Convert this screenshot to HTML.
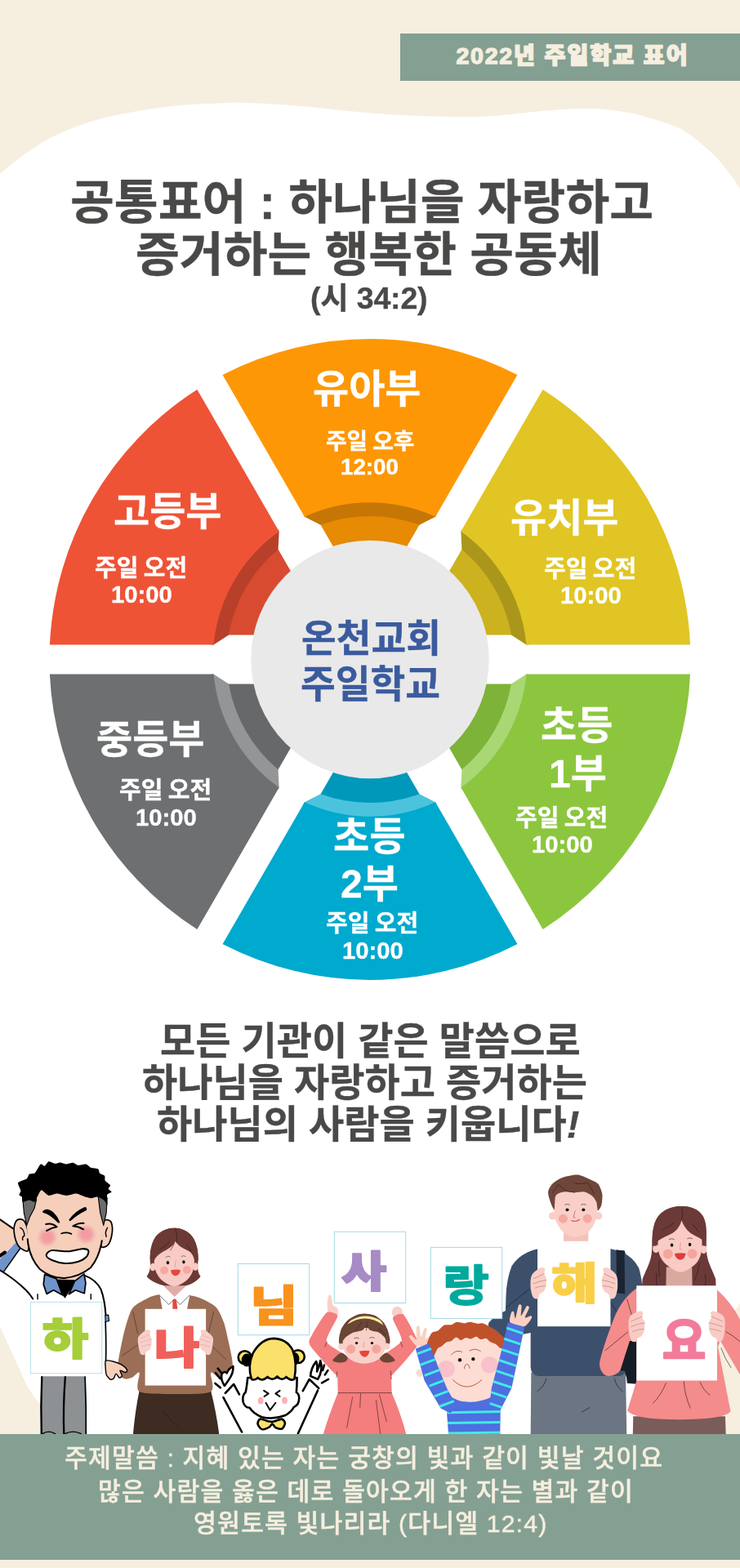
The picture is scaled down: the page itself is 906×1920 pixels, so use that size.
<!DOCTYPE html>
<html lang="ko">
<head>
<meta charset="utf-8">
<title>2022년 주일학교 표어</title>
<style>
html,body{margin:0;padding:0;}
body{width:906px;height:1920px;overflow:hidden;background:#f6eedf;position:relative;font-family:"Liberation Sans","Noto Sans CJK KR",sans-serif;}
#art{position:absolute;left:0;top:0;width:906px;height:1920px;display:block;}
.t{position:absolute;white-space:nowrap;margin:0;line-height:1;will-change:transform;}
.b9{font-weight:900;}
.b7{font-weight:700;-webkit-text-stroke:0.35px;}
.b5{font-weight:500;}
.dk{color:#4a4948;}
.wh{color:#ffffff;}
.cr{color:#f6eedf;}
.bl{color:#3b5b9e;}
.h1{font-size:58.5px;}
.h3{font-size:47px;}
.pl{font-size:48px;}
.ps{font-size:29px;word-spacing:-1.6px;}
.pn{font-size:29.25px;}
.ct{font-size:46.5px;}
.ft{font-size:30.25px;letter-spacing:1.05px;-webkit-text-stroke:0.45px;letter-spacing:1.15px;}
.sg{font-size:64px;font-weight:900;}
</style>
</head>
<body>
<svg id="art" width="906" height="1920" viewBox="0 0 906 1920">
<defs><filter id="blur1" x="-50%" y="-50%" width="200%" height="200%"><feGaussianBlur stdDeviation="13"/></filter></defs>
<!-- background blob -->
<path d="M0.0,212.8 C4.4,209.3 17.7,198.1 26.5,191.6 C35.3,185.1 44.2,178.9 53.0,173.7 C61.8,168.5 70.7,164.4 79.5,160.5 C88.3,156.6 97.2,153.4 106.0,150.5 C114.8,147.6 122.1,145.7 132.0,143.3 C141.9,141.0 154.5,138.4 165.6,136.4 C176.7,134.4 187.7,132.9 198.7,131.5 C209.7,130.1 220.8,128.8 231.8,128.0 C242.9,127.2 254.0,126.9 265.0,126.5 C276.0,126.1 281.2,125.3 298.0,125.8 C314.8,126.3 343.7,127.9 366.0,129.7 C388.3,131.5 409.9,134.5 432.0,136.4 C454.1,138.3 476.5,140.2 498.7,141.3 C520.9,142.4 548.1,142.8 565.0,143.0 C581.9,143.2 588.5,143.0 600.0,142.3 C611.5,141.6 622.5,140.1 633.8,139.0 C645.0,137.9 656.2,136.6 667.5,135.6 C678.8,134.6 691.2,133.6 701.3,133.2 C711.4,132.8 719.9,132.8 728.0,133.1 C736.1,133.4 742.8,134.0 750.2,134.9 C757.6,135.8 764.9,137.1 772.2,138.6 C779.6,140.1 785.3,141.6 794.3,144.2 C803.3,146.8 817.8,151.1 826.0,154.4 C834.2,157.7 837.8,160.1 843.7,164.1 C849.6,168.1 855.4,173.2 861.3,178.3 C867.2,183.5 873.1,188.5 879.0,195.0 C884.9,201.5 892.1,211.1 896.6,217.1 C901.1,223.1 904.4,228.8 906.0,231.2 L906,1596 C896,1610 880,1635 875,1660 C870,1700 868,1730 868,1760 L95,1760 C75,1752 60,1738 49,1719 C44,1714 38,1705 33,1697 C22,1673 11,1648 0,1624.6 Z" fill="#ffffff"/>
<!-- top banner -->
<rect x="490" y="41" width="416" height="58" fill="#84a092"/>
<text id="t_ban" x="701" y="78.2" font-family="'Liberation Sans','Noto Sans CJK KR',sans-serif" font-weight="900" font-size="28.5" text-anchor="middle" fill="#f6eedf" stroke="#f6eedf" stroke-width="1.4" stroke-linejoin="round" letter-spacing="1.7">2022년 주일학교 표어</text>
<!-- pie -->
<g id="pie" transform="translate(453 807.5)">
<g transform="rotate(0)"><path d="M-62.00,-167.39 A178.5,178.5 0 0 1 62.00,-167.39 L42.39,-133.43 L-42.39,-133.43 Z" fill="#e78a04"/><path d="M-81.65,-177.41 A195.3,195.3 0 0 1 81.65,-177.41 L80.14,-174.81 L60.48,-164.75 A175.5,175.5 0 0 0 -60.48,-164.75 L-80.14,-174.81 Z" fill="#c57604"/><path d="M-180.46,-348.56 A392.5,392.5 0 0 1 180.46,-348.56 L80.14,-174.81 A192.3,192.3 0 0 0 -80.14,-174.81 Z" fill="#fe9705"/></g>
<g transform="rotate(60)"><path d="M-62.00,-167.39 A178.5,178.5 0 0 1 62.00,-167.39 L42.39,-133.43 L-42.39,-133.43 Z" fill="#ccb21f"/><path d="M-81.65,-177.41 A195.3,195.3 0 0 1 81.65,-177.41 L80.14,-174.81 L60.48,-164.75 A175.5,175.5 0 0 0 -60.48,-164.75 L-80.14,-174.81 Z" fill="#ab961c"/><path d="M-180.46,-348.56 A392.5,392.5 0 0 1 180.46,-348.56 L80.14,-174.81 A192.3,192.3 0 0 0 -80.14,-174.81 Z" fill="#e1c524"/></g>
<g transform="rotate(120)"><path d="M-62.00,-167.39 A178.5,178.5 0 0 1 62.00,-167.39 L42.39,-133.43 L-42.39,-133.43 Z" fill="#7db338"/><path d="M-81.65,-177.41 A195.3,195.3 0 0 1 81.65,-177.41 L80.14,-174.81 L60.48,-164.75 A175.5,175.5 0 0 0 -60.48,-164.75 L-80.14,-174.81 Z" fill="#a9d774"/><path d="M-180.46,-348.56 A392.5,392.5 0 0 1 180.46,-348.56 L80.14,-174.81 A192.3,192.3 0 0 0 -80.14,-174.81 Z" fill="#8cc63e"/></g>
<g transform="rotate(180)"><path d="M-62.00,-167.39 A178.5,178.5 0 0 1 62.00,-167.39 L42.39,-133.43 L-42.39,-133.43 Z" fill="#0098ba"/><path d="M-81.65,-177.41 A195.3,195.3 0 0 1 81.65,-177.41 L80.14,-174.81 L60.48,-164.75 A175.5,175.5 0 0 0 -60.48,-164.75 L-80.14,-174.81 Z" fill="#4cc3dd"/><path d="M-180.46,-348.56 A392.5,392.5 0 0 1 180.46,-348.56 L80.14,-174.81 A192.3,192.3 0 0 0 -80.14,-174.81 Z" fill="#00a9ce"/></g>
<g transform="rotate(240)"><path d="M-62.00,-167.39 A178.5,178.5 0 0 1 62.00,-167.39 L42.39,-133.43 L-42.39,-133.43 Z" fill="#66686a"/><path d="M-81.65,-177.41 A195.3,195.3 0 0 1 81.65,-177.41 L80.14,-174.81 L60.48,-164.75 A175.5,175.5 0 0 0 -60.48,-164.75 L-80.14,-174.81 Z" fill="#939597"/><path d="M-180.46,-348.56 A392.5,392.5 0 0 1 180.46,-348.56 L80.14,-174.81 A192.3,192.3 0 0 0 -80.14,-174.81 Z" fill="#6d6f71"/></g>
<g transform="rotate(300)"><path d="M-62.00,-167.39 A178.5,178.5 0 0 1 62.00,-167.39 L42.39,-133.43 L-42.39,-133.43 Z" fill="#d94b30"/><path d="M-81.65,-177.41 A195.3,195.3 0 0 1 81.65,-177.41 L80.14,-174.81 L60.48,-164.75 A175.5,175.5 0 0 0 -60.48,-164.75 L-80.14,-174.81 Z" fill="#b8402a"/><path d="M-180.46,-348.56 A392.5,392.5 0 0 1 180.46,-348.56 L80.14,-174.81 A192.3,192.3 0 0 0 -80.14,-174.81 Z" fill="#ef5336"/></g>
<circle cx="0" cy="0" r="145.7" fill="#e9e9e9"/>
</g>
<!-- PEOPLE -->
<g id="people">
<!--P0-->
<g id="f2" transform="translate(120 1480) scale(0.198675)">
<path d="M255,1120L695,1120Q728,1250 748,1400L215,1400Q228,1250 255,1120Z" fill="#3e2c22"/>
<path d="M400,1250L495,1350" fill="none" stroke="#1c1410" stroke-width="3" stroke-linecap="round" stroke-linejoin="round"/>
<path d="M380,530C344.7,532.7 322,544.3 300,555C278,565.7 231.3,590.7 215,610C198.7,629.3 186.4,674.7 178,700C169.6,725.3 158.7,770.7 152,800C145.3,829.3 132.3,895.3 128,920C123.7,944.7 119.1,970.1 120,985C120.9,999.9 128.1,1023.3 135,1032C141.9,1040.7 161.7,1048.9 172,1050C182.3,1051.1 200.9,1045.1 212,1040C223.1,1034.9 249.3,1000.3 255,1012C260.7,1023.7 225.7,1110.7 255,1128C284.3,1145.3 416.3,1142 475,1142C533.7,1142 665.7,1145.3 695,1128C724.3,1110.7 689,1023.7 695,1012C701,1000.3 728.7,1034.3 740,1040C751.3,1045.7 770,1055 780,1055C790,1055 808.3,1048.7 815,1040C821.7,1031.3 828.7,1006 830,990C831.3,974 829,945.3 825,920C821,894.7 806.7,829.3 800,800C793.3,770.7 784.3,725.3 775,700C765.7,674.7 746.7,628.7 730,610C713.3,591.3 672,570 650,560C628,550 601,539 565,535C529,531 415.3,527.3 380,530Z" fill="#9c6e55"/>
<path d="M380,530L565,535L545,640L400,640Z" fill="#ffffff"/>
<path d="M406,440L540,440L540,480L472,545L406,480Z" fill="#e0aea6"/>
<path d="M406,480L378,533L437,591L470,557L507,591L565,533L540,480L472,543Z" fill="#ffffff"/>
<path d="M378,533L437,591L470,557L507,591L565,533" fill="none" stroke="#1a1a1a" stroke-width="3" stroke-linecap="round" stroke-linejoin="round"/>
<path d="M460,560L482,557L490,620L460,620Z" fill="#e8453c"/>
<path d="M215,635L245,770" fill="none" stroke="#2a1c14" stroke-width="2.5" stroke-linecap="round" stroke-linejoin="round"/>
<path d="M150,905L245,840" fill="none" stroke="#2a1c14" stroke-width="2.5" stroke-linecap="round" stroke-linejoin="round"/>
<path d="M712,635L680,770" fill="none" stroke="#2a1c14" stroke-width="2.5" stroke-linecap="round" stroke-linejoin="round"/>
<path d="M705,850L790,930" fill="none" stroke="#2a1c14" stroke-width="2.5" stroke-linecap="round" stroke-linejoin="round"/>
<path d="M470,120C420,118 370,145 345,190C322,235 318,290 322,330C325,365 318,395 300,418C330,452 380,470 410,474L540,474C570,470 605,452 632,418C615,395 612,365 616,330C620,290 615,235 592,190C568,145 520,118 470,120Z" fill="#6b3a35"/>
<ellipse cx="338" cy="360" rx="17" ry="24" fill="#f9cbc4"/>
<ellipse cx="600" cy="358" rx="17" ry="24" fill="#f9cbc4"/>
<path d="M346,330C344.7,307.5 343,279.2 352,260C361,240.8 380.3,225 400,215C419.7,205 446.7,200 470,200C493.3,200 520.3,205 540,215C559.7,225 579.2,240.8 588,260C596.8,279.2 594.3,307.5 593,330C591.7,352.5 588.8,375.5 580,395C571.2,414.5 558.3,433.2 540,447C521.7,460.8 493.3,478 470,478C446.7,478 418.3,460.8 400,447C381.7,433.2 369,414.5 360,395C351,375.5 347.3,352.5 346,330Z" fill="#f9cbc4"/>
<path d="M470,120C420,118 370,145 345,190C325,230 318,280 322,325L345,325C350,300 375,280 400,265C430,250 460,235 478,200C495,235 530,245 560,262C580,275 592,300 595,325L616,325C620,290 615,235 592,190C568,145 520,118 470,120Z" fill="#6b3a35"/>
<path d="M478,125Q492,165 484,210M470,215Q455,245 445,258" fill="none" stroke="#2a1512" stroke-width="3" stroke-linecap="round" stroke-linejoin="round"/>
<path d="M378,252Q415,235 440,205" fill="none" stroke="#2a1512" stroke-width="3" stroke-linecap="round" stroke-linejoin="round"/>
<path d="M545,222Q562,240 575,262" fill="none" stroke="#2a1512" stroke-width="3" stroke-linecap="round" stroke-linejoin="round"/>
<circle cx="408" cy="380" r="25" fill="#f5a9a0"/>
<circle cx="548" cy="378" r="25" fill="#f5a9a0"/>
<ellipse cx="430" cy="333" rx="8.5" ry="10.5" fill="#111"/>
<ellipse cx="528" cy="329" rx="8.5" ry="10.5" fill="#111"/>
<path d="M418,298Q430,288 444,296" fill="none" stroke="#1a1a1a" stroke-width="2.5" stroke-linecap="round" stroke-linejoin="round"/>
<path d="M514,294Q527,286 540,294" fill="none" stroke="#1a1a1a" stroke-width="2.5" stroke-linecap="round" stroke-linejoin="round"/>
<path d="M480,318L473,355L482,357" fill="none" stroke="#b98a82" stroke-width="2.5" stroke-linecap="round" stroke-linejoin="round"/>
<path d="M448,380Q478,372 508,378Q505,412 478,414Q452,412 448,380Z" fill="#e8453c"/>
<rect x="290" y="618" width="375" height="472" fill="#ffffff"/>
</g>
<text transform="translate(216.8 1669.87) scale(0.3011 0.2651)" font-family="'Liberation Sans','Noto Sans CJK KR',sans-serif" font-weight="900" font-size="200" text-anchor="middle" fill="#f0605a" stroke="#f0605a" stroke-width="7" stroke-linejoin="round">나</text>
<g id="f2h" transform="translate(120 1480) scale(0.198675)">
<path d="M262,775C271,766.3 290,751.8 300,748C310,744.2 319,747.5 322,752C325,756.5 316.7,767 318,775C319.3,783 328.3,789.2 330,800C331.7,810.8 330,828.3 328,840C326,851.7 322.7,863.3 318,870C313.3,876.7 305.5,875 300,880C294.5,885 291.3,897.5 285,900C278.7,902.5 267.8,903.3 262,895C256.2,886.7 252.7,865.8 250,850C247.3,834.2 244,812.5 246,800C248,787.5 253,783.7 262,775Z" fill="#f9cfca"/>
<path d="M693,775C684,766.3 665,751.8 655,748C645,744.2 636,747.5 633,752C630,756.5 638.3,767 637,775C635.7,783 626.7,789.2 625,800C623.3,810.8 625,828.3 627,840C629,851.7 632.3,863.3 637,870C641.7,876.7 649.5,875 655,880C660.5,885 663.7,897.5 670,900C676.3,902.5 687.2,903.3 693,895C698.8,886.7 702.3,865.8 705,850C707.7,834.2 711,812.5 709,800C707,787.5 702,783.7 693,775Z" fill="#f9cfca"/>
<path d="M262,800Q290,790 318,775" fill="none" stroke="#d69a94" stroke-width="2.5" stroke-linecap="round" stroke-linejoin="round"/>
<path d="M262,825Q295,812 328,805" fill="none" stroke="#d69a94" stroke-width="2.5" stroke-linecap="round" stroke-linejoin="round"/>
<path d="M268,850Q300,838 326,838" fill="none" stroke="#d69a94" stroke-width="2.5" stroke-linecap="round" stroke-linejoin="round"/>
<path d="M693,800Q665,790 637,775" fill="none" stroke="#d69a94" stroke-width="2.5" stroke-linecap="round" stroke-linejoin="round"/>
<path d="M693,825Q660,812 627,805" fill="none" stroke="#d69a94" stroke-width="2.5" stroke-linecap="round" stroke-linejoin="round"/>
<path d="M687,850Q655,838 629,838" fill="none" stroke="#d69a94" stroke-width="2.5" stroke-linecap="round" stroke-linejoin="round"/>
</g>
<g id="f1" transform="translate(0 1400) scale(0.198675)">
<path d="M255,1436L528,1436L534,1800L250,1800Z" fill="#8e9194"/>
<path d="M258,1440Q250,1620 256,1795" fill="none" stroke="#000000" stroke-width="11.6" stroke-linecap="round" stroke-linejoin="round"/>
<path d="M402,1440Q388,1620 394,1795" fill="none" stroke="#000000" stroke-width="11.6" stroke-linecap="round" stroke-linejoin="round"/>
<path d="M524,1440Q532,1620 530,1795" fill="none" stroke="#000000" stroke-width="8.7" stroke-linecap="round" stroke-linejoin="round"/>
<path d="M262,1790Q300,1765 340,1790" fill="none" stroke="#000000" stroke-width="7.2" stroke-linecap="round" stroke-linejoin="round"/>
<path d="M400,1790Q450,1765 500,1790" fill="none" stroke="#000000" stroke-width="7.2" stroke-linecap="round" stroke-linejoin="round"/>
<path d="M-10,460L79,524L96,613L-10,715Z" fill="#f6cfbb"/>
<path d="M-10,462L79,524" fill="none" stroke="#000000" stroke-width="10.2" stroke-linecap="round" stroke-linejoin="round"/>
<path d="M96,613L124,648L24,790L-10,786L-10,722Z" fill="#6f94cc"/>
<path d="M-10,700L30,672" fill="none" stroke="#000000" stroke-width="20.3" stroke-linecap="round" stroke-linejoin="round"/>
<path d="M124,648L24,790" fill="none" stroke="#000000" stroke-width="7.2" stroke-linecap="round" stroke-linejoin="round"/>
<path d="M-10,776Q90,835 160,905Q185,930 202,958" fill="none" stroke="#000000" stroke-width="10.2" stroke-linecap="round" stroke-linejoin="round"/>
<path d="M522,815Q590,840 622,900Q645,960 652,1060" fill="none" stroke="#000000" stroke-width="10.2" stroke-linecap="round" stroke-linejoin="round"/>
<path d="M648,1060L668,1058L672,1095L650,1100Z" fill="#6f94cc" stroke="#000000" stroke-width="5.8" stroke-linecap="round" stroke-linejoin="round"/>
<path d="M650,1100Q655,1230 652,1345" fill="none" stroke="#000000" stroke-width="8.7" stroke-linecap="round" stroke-linejoin="round"/>
<path d="M232,930L232,960" fill="none" stroke="#000000" stroke-width="7.2" stroke-linecap="round" stroke-linejoin="round"/>
<path d="M560,930L560,960" fill="none" stroke="#000000" stroke-width="7.2" stroke-linecap="round" stroke-linejoin="round"/>
<path d="M652,1340C658.7,1335.3 686.9,1341.7 700,1345C713.1,1348.3 739.1,1358.3 750,1365C760.9,1371.7 778.7,1388.7 782,1395C785.3,1401.3 780.6,1411.3 775,1412C769.4,1412.7 743.1,1397.3 740,1400C736.9,1402.7 752.7,1426 752,1432C751.3,1438 739.9,1446.6 735,1445C730.1,1443.4 719.7,1419.3 715,1420C710.3,1420.7 704.7,1445.3 700,1450C695.3,1454.7 684.7,1456.3 680,1455C675.3,1453.7 668.3,1444 665,1440C661.7,1436 657,1433 655,1425C653,1417 650.4,1391.3 650,1380C649.6,1368.7 645.3,1344.7 652,1340Z" fill="#f6cfbb" stroke="#000000" stroke-width="7.2" stroke-linecap="round" stroke-linejoin="round"/>
<path d="M300,770L500,770L480,880L400,950L330,880Z" fill="#f6cfbb"/>
<path d="M345,838L462,842L442,890L400,955L358,900Z" fill="#000000"/>
<path d="M275,808L348,835L385,935L330,905L288,928L268,870Z" fill="#6f94cc" stroke="#000000" stroke-width="8.7" stroke-linecap="round" stroke-linejoin="round"/>
<path d="M518,805L460,850L425,930L465,905L520,925L528,860Z" fill="#6f94cc" stroke="#000000" stroke-width="8.7" stroke-linecap="round" stroke-linejoin="round"/>
<path d="M150,480C139.2,465 120.3,465 110,470C99.7,475 91.3,493.3 88,510C84.7,526.7 86,550 90,570C94,590 102,615 112,630C122,645 139.5,655.8 150,660C160.5,664.2 170.8,671.7 175,655C179.2,638.3 179.2,589.2 175,560C170.8,530.8 160.8,495 150,480Z" fill="#f6cfbb" stroke="#000000" stroke-width="8.7" stroke-linecap="round" stroke-linejoin="round"/>
<path d="M125,520Q150,530 150,570Q135,575 140,595" fill="none" stroke="#000000" stroke-width="7.2" stroke-linecap="round" stroke-linejoin="round"/>
<path d="M640,480C648.8,466.3 669.3,472.2 678,478C686.7,483.8 690.3,499.7 692,515C693.7,530.3 691.7,552.5 688,570C684.3,587.5 678,608.3 670,620C662,631.7 648,638.3 640,640C632,641.7 624.5,643.3 622,630C619.5,616.7 622,585 625,560C628,535 631.2,493.7 640,480Z" fill="#f6cfbb" stroke="#000000" stroke-width="8.7" stroke-linecap="round" stroke-linejoin="round"/>
<path d="M662,520Q645,545 655,575" fill="none" stroke="#000000" stroke-width="7.2" stroke-linecap="round" stroke-linejoin="round"/>
<path d="M165,330C176.3,298 218.7,270.7 250,260C281.3,249.3 358.7,248.7 400,250C441.3,251.3 528,259.3 560,270C592,280.7 629.3,302 640,330C650.7,358 641.6,444 640,480C638.4,516 632.7,572 628,600C623.3,628 614.7,667.3 605,690C595.3,712.7 571.7,753.3 555,770C538.3,786.7 500.7,807 480,815C459.3,823 420,829.3 400,830C380,830.7 349.3,826 330,820C310.7,814 272.3,799 255,785C237.7,771 210.5,737 200,715C189.5,693 180.7,648.7 176,620C171.3,591.3 166.5,538.7 165,500C163.5,461.3 153.7,362 165,330Z" fill="#f6cfbb"/>
<path d="M170,590Q178,700 245,775Q320,835 400,830Q490,822 560,765Q612,700 628,600" fill="none" stroke="#000000" stroke-width="10.2" stroke-linecap="round" stroke-linejoin="round"/>
<path d="M140,340L225,345L212,400L185,450L165,505L148,430Z" fill="#6c6c6c" stroke="#000000" stroke-width="5.8" stroke-linecap="round" stroke-linejoin="round"/>
<path d="M605,325L660,335L655,430L638,505L618,430Z" fill="#6c6c6c" stroke="#000000" stroke-width="5.8" stroke-linecap="round" stroke-linejoin="round"/>
<path d="M120,272C118.4,266.7 107.5,247.4 112,242C116.5,236.6 158.2,223.2 165,218C171.8,212.8 175,193.6 180,190C185,186.4 208,188.2 215,182C222,175.8 244,132.2 250,128C256,123.8 270,141.6 275,140C280,138.4 293.5,113.5 300,112C306.5,110.5 333,124.4 340,125C347,125.6 363,117.7 370,118C377,118.3 402,127.8 410,128C418,128.2 443,119.3 450,120C457,120.7 472,134.2 480,135C488,135.8 522,126.5 530,128C538,129.5 552.5,147 560,150C567.5,153 599.5,154.5 605,158C610.5,161.5 611,180.8 615,185C619,189.2 641.7,195.5 645,200C648.3,204.5 644.5,224.2 648,230C651.5,235.8 678,253 680,258C682,263 667.2,275.8 668,280C668.8,284.2 688.8,296.2 688,300C687.2,303.8 662.6,310 660,318C657.4,326 664,376.8 662,380C660,383.2 646.2,355 640,350C633.8,345 607.5,331.2 600,330C592.5,328.8 573,338.2 565,338C557,337.8 529.5,330.8 520,328C510.5,325.2 481,310.6 470,310C459,309.4 422,322 410,322C398,322 361,310 350,310C339,310 309.5,324.2 300,322C290.5,319.8 262,287.2 255,288C248,288.8 234,322.6 230,330C226,337.4 220,360 215,362C210,364 187.5,350 180,350C172.5,350 144.5,364 140,362C135.5,360 137.2,334.4 135,330C132.8,325.6 118.7,321.5 118,318C117.3,314.5 127.8,299.6 128,295C128.2,290.4 121.6,277.3 120,272Z" fill="#000000"/>
<circle cx="292" cy="578" r="48" fill="#f08a9a" filter="url(#blur1)" opacity="0.75"/>
<circle cx="530" cy="560" r="48" fill="#f08a9a" filter="url(#blur1)" opacity="0.75"/>
<path d="M268,422Q290,402 325,430Q350,455 362,485Q340,462 310,440Q285,425 268,422Z" fill="#000000" stroke="#000000" stroke-width="13" stroke-linecap="round" stroke-linejoin="round"/>
<path d="M432,472Q465,425 522,400Q530,398 528,408Q480,430 432,472Z" fill="#000000" stroke="#000000" stroke-width="13" stroke-linecap="round" stroke-linejoin="round"/>
<path d="M283,498Q320,488 350,515Q320,520 288,538" fill="none" stroke="#000000" stroke-width="10.2" stroke-linecap="round" stroke-linejoin="round"/>
<path d="M516,492Q480,490 450,510Q485,512 514,530" fill="none" stroke="#000000" stroke-width="10.2" stroke-linecap="round" stroke-linejoin="round"/>
<path d="M378,556Q408,545 440,558" fill="none" stroke="#000000" stroke-width="8.7" stroke-linecap="round" stroke-linejoin="round"/>
<path d="M285,690C284.7,681 297.8,663.6 318,660C338.2,656.4 391.2,667.5 420,666C448.8,664.5 491.2,650.6 510,650C528.8,649.4 541.7,654.5 545,662C548.3,669.5 541.8,689.8 532,700C522.2,710.2 499.8,724 480,730C460.2,736 424,741.5 400,740C376,738.5 337.2,727.5 320,720C302.8,712.5 285.3,699 285,690Z" fill="#ffffff" stroke="#000000" stroke-width="10.2" stroke-linecap="round" stroke-linejoin="round"/>
<rect x="188" y="978" width="440" height="440" fill="#ffffff" stroke="#a3dae4" stroke-width="4"/>
</g>
<text transform="translate(80.04 1659.11) scale(0.3072 0.2646)" font-family="'Liberation Sans','Noto Sans CJK KR',sans-serif" font-weight="900" font-size="200" text-anchor="middle" fill="#a6ce39" stroke="#a6ce39" stroke-width="7" stroke-linejoin="round">하</text>
<g id="f3" transform="translate(250 1530) scale(0.198675)">
<path d="M232,1125L118,912" fill="none" stroke="#000000" stroke-width="13" stroke-linecap="round" stroke-linejoin="round"/>
<path d="M130,885L182,830L216,893" fill="none" stroke="#000000" stroke-width="13" stroke-linecap="round" stroke-linejoin="round"/>
<path d="M578,1135L700,868" fill="none" stroke="#000000" stroke-width="13" stroke-linecap="round" stroke-linejoin="round"/>
<path d="M608,872L648,800L706,855" fill="none" stroke="#000000" stroke-width="13" stroke-linecap="round" stroke-linejoin="round"/>
<path d="M125,840Q100,800 108,768Q125,745 140,762Q148,735 178,720Q182,760 150,805Z" fill="#ffffff" stroke="#000000" stroke-width="13" stroke-linecap="round" stroke-linejoin="round"/>
<path d="M70,760L98,795" fill="none" stroke="#000000" stroke-width="13" stroke-linecap="round" stroke-linejoin="round"/>
<path d="M84,733L106,760" fill="none" stroke="#000000" stroke-width="13" stroke-linecap="round" stroke-linejoin="round"/>
<path d="M68,825L100,852" fill="none" stroke="#000000" stroke-width="13" stroke-linecap="round" stroke-linejoin="round"/>
<path d="M655,780Q658,730 690,690Q702,720 695,752Q712,720 716,685Q735,740 700,800Z" fill="#ffffff" stroke="#000000" stroke-width="13" stroke-linecap="round" stroke-linejoin="round"/>
<path d="M740,712L730,745" fill="none" stroke="#000000" stroke-width="13" stroke-linecap="round" stroke-linejoin="round"/>
<path d="M762,745L744,772" fill="none" stroke="#000000" stroke-width="13" stroke-linecap="round" stroke-linejoin="round"/>
<path d="M765,800L725,822" fill="none" stroke="#000000" stroke-width="13" stroke-linecap="round" stroke-linejoin="round"/>
<path d="M400,1060C388.7,1058 354.3,1043 345,1045C335.7,1047 328.7,1066.6 330,1075C331.3,1083.4 345.7,1105.3 355,1108C364.3,1110.7 391.3,1099.4 400,1095C408.7,1090.6 414.7,1074.6 420,1075C425.3,1075.4 432,1094 440,1098C448,1102 472.3,1108.7 480,1105C487.7,1101.3 498.3,1078 498,1070C497.7,1062 487.1,1046.3 478,1045C468.9,1043.7 440.4,1058 430,1060C419.6,1062 411.3,1062 400,1060Z" fill="#fbe16b" stroke="#000000" stroke-width="13" stroke-linecap="round" stroke-linejoin="round"/>
<circle cx="250" cy="665" r="40" fill="#fbe16b" stroke="#000" stroke-width="13"/>
<circle cx="578" cy="660" r="40" fill="#fbe16b" stroke="#000" stroke-width="13"/>
<ellipse cx="262" cy="682" rx="32" ry="40" fill="#000000"/>
<ellipse cx="556" cy="674" rx="30" ry="40" fill="#000000"/>
<path d="M268,790Q262,850 255,880Q232,900 240,940Q250,975 280,975Q300,1010 355,1033Q430,1050 500,1022Q540,1000 552,972Q585,960 585,915Q585,890 568,880Q572,840 572,790Z" fill="#ffffff" stroke="#000000" stroke-width="13" stroke-linecap="round" stroke-linejoin="round"/>
<path d="M292,800Q265,720 300,640Q350,550 430,548Q510,552 545,620Q575,700 555,800Q530,812 505,785Q480,815 450,782Q420,815 390,785Q355,818 330,790Q315,808 292,800Z" fill="#fbe16b" stroke="#000000" stroke-width="13" stroke-linecap="round" stroke-linejoin="round"/>
<ellipse cx="348" cy="932" rx="17" ry="22" fill="#f7b3b3"/>
<ellipse cx="496" cy="930" rx="17" ry="22" fill="#f7b3b3"/>
<path d="M368,870L396,888L370,906" fill="none" stroke="#000000" stroke-width="10" stroke-linecap="round" stroke-linejoin="round"/>
<path d="M466,870L440,888L466,906" fill="none" stroke="#000000" stroke-width="10" stroke-linecap="round" stroke-linejoin="round"/>
<path d="M380,945L406,990L440,945" fill="none" stroke="#000000" stroke-width="10" stroke-linecap="round" stroke-linejoin="round"/>
</g>
<rect x="291.3" y="1547.5" width="87.4" height="87.2" fill="#ffffff" stroke="#a3dae4" stroke-width="1"/>
<text transform="translate(335.22 1617.88) scale(0.3157 0.2627)" font-family="'Liberation Sans','Noto Sans CJK KR',sans-serif" font-weight="900" font-size="200" text-anchor="middle" fill="#f7931e" stroke="#f7931e" stroke-width="6" stroke-linejoin="round">님</text>
<g id="f4" transform="translate(370 1490) scale(0.198675)">
<path d="M160,600C154.7,586 153.9,536.3 155,520C156.1,503.7 164.4,480.7 168,478C171.6,475.3 179.1,491.1 182,500C184.9,508.9 185.6,537 190,545C194.4,553 210.7,552.7 215,560C219.3,567.3 224.7,591.3 222,600C219.3,608.7 203.3,625 195,625C186.7,625 165.3,614 160,600Z" fill="#f9d0c8"/>
<path d="M555,600C551,591.3 556,571.4 560,565C564,558.6 578.1,552 585,552C591.9,552 607.6,558.6 612,565C616.4,571.4 620.9,591.3 618,600C615.1,608.7 598.4,630 590,630C581.6,630 559,608.7 555,600Z" fill="#f9d0c8"/>
<path d="M250,1010C225,1001.5 68.8,823.5 50,795C31.2,766.5 52,745.5 62,725C72,704.5 134.4,601.3 150,590C165.6,578.7 218,594 218,612C218,630 141.8,743.2 150,770C158.2,796.8 290,856 300,880C310,904 275,1018.5 250,1010Z" fill="#f47d7d"/>
<path d="M515,1010C538.5,1002 687.3,828.8 705,800C722.7,771.2 700.3,742 692,722C683.7,702 635.4,609.7 622,600C608.6,590.3 559,608.5 558,625C557,641.5 620.8,739.5 612,765C603.2,790.5 479.7,855.5 470,880C460.3,904.5 491.5,1018 515,1010Z" fill="#f47d7d"/>
<path d="M215,880L545,880L552,1085Q610,1220 642,1345L128,1345Q165,1220 220,1085Z" fill="#f47d7d"/>
<path d="M222,1085L550,1085" fill="none" stroke="#3a1d1d" stroke-width="3" stroke-linecap="round" stroke-linejoin="round"/>
<path d="M310,1112L275,1300" fill="none" stroke="#3a1d1d" stroke-width="3" stroke-linecap="round" stroke-linejoin="round"/>
<path d="M360,1090L356,1175" fill="none" stroke="#3a1d1d" stroke-width="3" stroke-linecap="round" stroke-linejoin="round"/>
<path d="M455,1130L482,1340" fill="none" stroke="#3a1d1d" stroke-width="3" stroke-linecap="round" stroke-linejoin="round"/>
<path d="M476,1096L520,1262" fill="none" stroke="#3a1d1d" stroke-width="3" stroke-linecap="round" stroke-linejoin="round"/>
<path d="M152,770L140,800" fill="none" stroke="#3a1d1d" stroke-width="3" stroke-linecap="round" stroke-linejoin="round"/>
<path d="M215,955L212,990" fill="none" stroke="#3a1d1d" stroke-width="3" stroke-linecap="round" stroke-linejoin="round"/>
<path d="M545,950L550,1000" fill="none" stroke="#3a1d1d" stroke-width="3" stroke-linecap="round" stroke-linejoin="round"/>
<path d="M606,770L618,800" fill="none" stroke="#3a1d1d" stroke-width="3" stroke-linecap="round" stroke-linejoin="round"/>
<path d="M188,882C191.3,874.1 227.7,839.9 240,838C252.3,836.1 277.1,860.4 280,868C282.9,875.6 270.7,891.1 262,895C253.3,898.9 224.9,898.7 215,897C205.1,895.3 184.7,889.9 188,882Z" fill="#6b4536"/>
<path d="M478,870C480.9,862.4 507.5,836.4 520,838C532.5,839.6 569.3,874.1 572,882C574.7,889.9 549.9,895.3 540,897C530.1,898.7 506.3,898.6 498,895C489.7,891.4 475.1,877.6 478,870Z" fill="#6b4536"/>
<path d="M235,790C216.1,774 232.3,720 238,700C243.7,680 264.7,652.7 278,640C291.3,627.3 323.1,610.6 338,605C352.9,599.4 375.1,597.3 390,598C404.9,598.7 435.3,603.1 450,610C464.7,616.9 489.3,636.7 500,650C510.7,663.3 525.7,691.3 530,710C534.3,728.7 552,775.3 532,790C512,804.7 419.6,820 380,820C340.4,820 253.9,806 235,790Z" fill="#6b4536"/>
<circle cx="243" cy="800" r="20" fill="#f9d0c8"/>
<circle cx="520" cy="798" r="20" fill="#f9d0c8"/>
<path d="M250,780C249.1,760.5 251.5,733.5 262,720C272.5,706.5 301.6,695.2 320,690C338.4,684.8 365.5,684.7 385,685C404.5,685.3 432,686.5 450,692C468,697.5 495.2,707.3 505,722C514.8,736.7 516.5,770.8 515,790C513.5,809.2 504.8,835 495,850C485.2,865 466.8,881.8 450,890C433.2,898.2 403.2,905 383,905C362.8,905 332.2,898.2 315,890C297.8,881.8 277.8,866.5 268,850C258.2,833.5 250.9,799.5 250,780Z" fill="#f9d0c8"/>
<path d="M238,780C235.1,774.8 235.3,716.3 240,700C244.7,683.7 266.6,651.1 278,640C289.4,628.9 324.9,609.9 338,605C351.1,600.1 376.9,597.4 390,598C403.1,598.6 437.2,603.9 450,610C462.8,616.1 490.7,638.3 500,650C509.3,661.7 526.5,694.8 530,710C533.5,725.2 532.9,776.5 530,780C527.1,783.5 512,747.9 505,740C498,732.1 479.9,716.7 470,712C460.1,707.3 428.8,704.3 420,700C411.2,695.7 400.8,675 395,675C389.2,675 379.9,695.3 370,700C360.1,704.7 322.2,709.8 310,715C297.8,720.2 273.4,737.4 265,745C256.6,752.6 240.9,785.2 238,780Z" fill="#6b4536"/>
<path d="M280,662Q390,588 500,668Q492,648 478,636Q390,585 300,638Q286,650 280,662Z" fill="#fbeea0"/>
<path d="M398,650Q402,675 395,700" fill="none" stroke="#3a1d1d" stroke-width="3" stroke-linecap="round" stroke-linejoin="round"/>
<path d="M365,648Q350,680 330,700" fill="none" stroke="#3a1d1d" stroke-width="3" stroke-linecap="round" stroke-linejoin="round"/>
<path d="M470,690Q495,700 510,730" fill="none" stroke="#3a1d1d" stroke-width="3" stroke-linecap="round" stroke-linejoin="round"/>
<circle cx="300" cy="815" r="28" fill="#f5a59d"/>
<circle cx="457" cy="815" r="28" fill="#f5a59d"/>
<circle cx="335" cy="778" r="8.5" fill="#111"/>
<circle cx="430" cy="778" r="8.5" fill="#111"/>
<path d="M322,748Q335,740 348,748" fill="none" stroke="#3a1d1d" stroke-width="3" stroke-linecap="round" stroke-linejoin="round"/>
<path d="M416,746Q430,738 444,746" fill="none" stroke="#3a1d1d" stroke-width="3" stroke-linecap="round" stroke-linejoin="round"/>
<path d="M380,775L378,805" fill="none" stroke="#b98a82" stroke-width="3" stroke-linecap="round" stroke-linejoin="round"/>
<path d="M352,828Q385,822 415,826Q410,862 385,864Q358,860 352,828Z" fill="#e8453c"/>
</g>
<rect x="409.3" y="1508.3" width="87.4" height="87.2" fill="#ffffff" stroke="#a3dae4" stroke-width="1"/>
<text transform="translate(445.65 1576.42) scale(0.3005 0.26)" font-family="'Liberation Sans','Noto Sans CJK KR',sans-serif" font-weight="900" font-size="200" text-anchor="middle" fill="#a68bc5" stroke="#a68bc5" stroke-width="7" stroke-linejoin="round">사</text>
<g id="f6" transform="translate(600 1420) scale(0.220751)">
<path d="M700,500L745,505L790,620L820,1000L815,1245L760,1240L740,1000Z" fill="#1b2430"/>
<path d="M228,1180L752,1180L758,1545L225,1545Z" fill="#6c7583"/>
<path d="M262,1285Q300,1260 312,1215" fill="none" stroke="#141c28" stroke-width="3" stroke-linecap="round" stroke-linejoin="round"/>
<path d="M690,1215Q700,1260 735,1285" fill="none" stroke="#141c28" stroke-width="3" stroke-linecap="round" stroke-linejoin="round"/>
<path d="M510,1400L552,1375" fill="none" stroke="#141c28" stroke-width="3" stroke-linecap="round" stroke-linejoin="round"/>
<path d="M265,495Q170,515 120,590Q90,670 88,760L86,838Q30,860 -8,905Q-15,960 20,1000L225,960L225,1150Q225,1195 270,1200L720,1200Q755,1195 755,1150L760,900L850,830Q850,680 825,600Q780,515 670,495Z" fill="#3c506b"/>
<path d="M700,500L745,505L748,745L702,740Z" fill="#1b2430"/>
<path d="M90,820L215,720" fill="none" stroke="#141c28" stroke-width="3" stroke-linecap="round" stroke-linejoin="round"/>
<path d="M668,790L700,840" fill="none" stroke="#141c28" stroke-width="3" stroke-linecap="round" stroke-linejoin="round"/>
<path d="M408,380L545,380L545,452L408,452Z" fill="#f3c2ba"/>
<circle cx="347" cy="312" r="21" fill="#f9cfc8"/>
<circle cx="601" cy="312" r="21" fill="#f9cfc8"/>
<path d="M356,170C374.1,149 439.9,150 475,150C510.1,150 572.1,149 590,170C607.9,191 595.8,262.2 594,290C592.2,317.8 586.1,337.8 578,355C569.9,372.2 555.5,393.8 540,405C524.5,416.2 494.5,430 475,430C455.5,430 425.4,416.2 410,405C394.6,393.8 380.4,372.2 372,355C363.6,337.8 356.4,317.8 354,290C351.6,262.2 337.9,191 356,170Z" fill="#f9cfc8"/>
<path d="M335,235C330.5,222.3 320.7,193.3 322,180C323.3,166.7 334.6,145.7 345,135C355.4,124.3 382,106.8 400,100C418,93.2 462.7,84.3 480,84C497.3,83.7 519.3,94.3 530,98C540.7,101.7 550.7,107.1 560,112C569.3,116.9 591.7,124.6 600,135C608.3,145.4 619.6,174.7 622,190C624.4,205.3 621.2,237.7 618,250C614.8,262.3 601.7,284 598,282C594.3,280 594.4,245.9 590,235C585.6,224.1 574.3,207.6 565,200C555.7,192.4 532.7,180.4 520,178C507.3,175.6 483.3,182 470,182C456.7,182 431.3,177.6 420,178C408.7,178.4 392.7,181.4 385,185C377.3,188.6 365.9,193 362,205C358.1,217 359.6,271 356,275C352.4,279 339.5,247.7 335,235Z" fill="#6f463a"/>
<path d="M345,185Q365,160 378,138Q420,180 470,182" fill="none" stroke="#2a1512" stroke-width="2.5" stroke-linecap="round" stroke-linejoin="round"/>
<path d="M470,130Q510,140 540,125Q560,150 575,190" fill="none" stroke="#2a1512" stroke-width="2.5" stroke-linecap="round" stroke-linejoin="round"/>
<circle cx="405" cy="327" r="25" fill="#f5a9a0"/>
<circle cx="540" cy="327" r="25" fill="#f5a9a0"/>
<circle cx="428" cy="278" r="9" fill="#111"/>
<circle cx="518" cy="278" r="9" fill="#111"/>
<path d="M415,250Q428,242 442,250" fill="none" stroke="#141c28" stroke-width="2.5" stroke-linecap="round" stroke-linejoin="round"/>
<path d="M505,250Q518,242 532,250" fill="none" stroke="#141c28" stroke-width="2.5" stroke-linecap="round" stroke-linejoin="round"/>
<path d="M472,285L462,320L472,322" fill="none" stroke="#7a4a42" stroke-width="2.5" stroke-linecap="round" stroke-linejoin="round"/>
<path d="M452,338Q475,348 496,332" fill="none" stroke="#e8453c" stroke-width="5" stroke-linecap="round" stroke-linejoin="round"/>
<rect x="263" y="460" width="405" height="465" fill="#ffffff"/>
</g>
<text transform="translate(703.17 1590.71) scale(0.3065 0.2675)" font-family="'Liberation Sans','Noto Sans CJK KR',sans-serif" font-weight="900" font-size="200" text-anchor="middle" fill="#f9cf47" stroke="#f9cf47" stroke-width="6" stroke-linejoin="round">해</text>
<g id="f6h" transform="translate(600 1420) scale(0.220751)">
<path d="M232,640C241.2,621.7 267.8,605.8 280,600C292.2,594.2 301.7,600 305,605C308.3,610 298.8,620.8 300,630C301.2,639.2 310.3,648.3 312,660C313.7,671.7 312.3,688.3 310,700C307.7,711.7 303.8,722.5 298,730C292.2,737.5 280.5,738.3 275,745C269.5,751.7 270.8,766.7 265,770C259.2,773.3 246.7,775 240,765C233.3,755 226.3,730.8 225,710C223.7,689.2 222.8,658.3 232,640Z" fill="#f9cfc8"/>
<path d="M700,640C690.8,621.7 664.2,605.8 652,600C639.8,594.2 630.3,600 627,605C623.7,610 633.2,620.8 632,630C630.8,639.2 621.7,648.3 620,660C618.3,671.7 619.7,688.3 622,700C624.3,711.7 628.2,722.5 634,730C639.8,737.5 651.5,738.3 657,745C662.5,751.7 661.2,766.7 667,770C672.8,773.3 685.3,775 692,765C698.7,755 705.7,730.8 707,710C708.3,689.2 709.2,658.3 700,640Z" fill="#f9cfc8"/>
<path d="M240,660Q270,650 300,632" fill="none" stroke="#a86a64" stroke-width="2.5" stroke-linecap="round" stroke-linejoin="round"/>
<path d="M240,688Q275,672 310,668" fill="none" stroke="#a86a64" stroke-width="2.5" stroke-linecap="round" stroke-linejoin="round"/>
<path d="M248,712Q280,700 306,700" fill="none" stroke="#a86a64" stroke-width="2.5" stroke-linecap="round" stroke-linejoin="round"/>
<path d="M692,660Q662,650 632,632" fill="none" stroke="#a86a64" stroke-width="2.5" stroke-linecap="round" stroke-linejoin="round"/>
<path d="M692,688Q657,672 622,668" fill="none" stroke="#a86a64" stroke-width="2.5" stroke-linecap="round" stroke-linejoin="round"/>
<path d="M684,712Q652,700 626,700" fill="none" stroke="#a86a64" stroke-width="2.5" stroke-linecap="round" stroke-linejoin="round"/>
</g>
<g id="f5" transform="translate(480 1500) scale(0.198675)">
<clipPath id="c5a"><path d="M145,762L228,728L300,915L340,1010L395,1110L360,1160L300,1130L200,960Z"/></clipPath><clipPath id="c5b"><path d="M714,600L816,628L770,850L737,1006L668,1140L600,1110L613,1006L668,800Z"/></clipPath><clipPath id="c5c"><path d="M330,1060L670,1060L665,1320L350,1320Z"/></clipPath>
<path d="M150,745C137.2,739.2 108.5,697.6 105,690C101.5,682.4 114.8,678.2 120,680C125.2,681.8 146.5,710.8 150,705C153.5,699.2 147.9,639.3 150,630C152.1,620.7 164.7,618 168,625C171.3,632 174.3,688.8 178,690C181.7,691.2 195.7,640.6 200,635C204.3,629.4 214.4,634.4 215,642C215.6,649.6 203,695 205,700C207,705 227.9,685.2 232,685C236.1,684.8 242,691.6 240,698C238,704.4 225.5,734.5 215,740C204.5,745.5 162.8,750.8 150,745Z" fill="#fbd0c0"/>
<path d="M728,600C718.7,590.1 732.4,547.6 735,540C737.6,532.4 747.1,530.9 750,535C752.9,539.1 756.5,579.7 760,575C763.5,570.3 775.6,504 780,495C784.4,486 796.2,490.4 798,498C799.8,505.6 791.3,559.8 795,560C798.7,560.2 824.2,505.8 830,500C835.8,494.2 846.2,501.8 845,510C843.8,518.2 818.8,564.2 820,570C821.2,575.8 850.3,559.4 855,560C859.7,560.6 864.7,567.4 860,575C855.3,582.6 830.4,622.1 815,625C799.6,627.9 737.3,609.9 728,600Z" fill="#fbd0c0"/>
<path d="M330,1060L670,1060L665,1320L350,1320Z" fill="#4d6fe0"/>
<g clip-path="url(#c5c)" stroke="#42ebe4" stroke-width="15" fill="none"><path d="M330,1156L690,1150"/><path d="M330,1221L690,1215"/><path d="M330,1284L690,1278"/></g>
<circle cx="172" cy="912" r="24" fill="#fcdcd3"/>
<path d="M250,820C250.6,796 250,758 262,740C274,722 300.3,707.5 330,700C359.7,692.5 419.5,690 460,690C500.5,690 569.2,691.8 600,700C630.8,708.2 652.7,727 665,745C677.3,763 681,796.8 682,820C683,843.2 676,874.5 672,900C668,925.5 664.3,966 655,990C645.7,1014 630.2,1045.3 610,1060C589.8,1074.7 548.5,1084.2 520,1088C491.5,1091.8 446.2,1091.5 420,1085C393.8,1078.5 364.5,1061.5 345,1045C325.5,1028.5 303.1,996.8 290,975C276.9,953.2 264,923.2 258,900C252,876.8 249.4,844 250,820Z" fill="#fcdcd3"/>
<path d="M215,735C216.8,720.4 236.8,674.9 245,665C253.2,655.1 276.2,655.5 285,650C293.8,644.5 310.7,622.1 320,618C329.3,613.9 355.7,617.3 365,615C374.3,612.7 390.7,599 400,598C409.3,597 435.7,606 445,606C454.3,606 470.7,597.8 480,598C489.3,598.2 515.7,607.1 525,608C534.3,608.9 551.2,604 560,606C568.8,608 590.7,620.1 600,625C609.3,629.9 632.4,642.5 640,648C647.6,653.5 658.6,665.9 665,672C671.4,678.1 692.1,692.6 695,700C697.9,707.4 689.6,727.4 690,735C690.4,742.6 700.9,762.3 698,765C695.1,767.7 671.8,761.5 665,758C658.2,754.5 647,739.4 640,735C633,730.6 612,724.3 605,720C598,715.7 587,699.8 580,698C573,696.2 552,706.2 545,705C538,703.8 527,688.4 520,688C513,687.6 492.6,701.2 485,702C477.4,702.8 462,694.1 455,695C448,695.9 432,710.4 425,710C418,709.6 402,691.4 395,692C388,692.6 372,711.5 365,715C358,718.5 342,718.1 335,722C328,725.9 311.4,743.3 305,748C298.6,752.7 285,755.9 280,762C275,768.1 266.1,793 262,800C257.9,807 248.7,823.2 245,822C241.3,820.8 233.5,800.1 230,790C226.5,779.9 213.2,749.6 215,735Z" fill="#c0522b"/>
<circle cx="335" cy="888" r="52" fill="#f9bfca" opacity="0.95"/>
<circle cx="600" cy="862" r="52" fill="#f9bfca" opacity="0.95"/>
<circle cx="418" cy="832" r="11" fill="#111"/>
<circle cx="500" cy="826" r="11" fill="#111"/>
<path d="M365,800Q395,765 430,782" fill="none" stroke="#8a4a2a" stroke-width="4" stroke-linecap="round" stroke-linejoin="round"/>
<path d="M478,775Q512,755 545,778" fill="none" stroke="#8a4a2a" stroke-width="4" stroke-linecap="round" stroke-linejoin="round"/>
<path d="M445,885Q448,858 462,858Q476,860 478,882" fill="none" stroke="#8a4a2a" stroke-width="4" stroke-linecap="round" stroke-linejoin="round"/>
<path d="M375,955Q460,1040 552,955" fill="none" stroke="#b0603a" stroke-width="5" stroke-linecap="round" stroke-linejoin="round"/>
<path d="M145,762L228,728L300,915L340,1010L395,1110L360,1160L300,1130L200,960Z" fill="#4d6fe0"/>
<g clip-path="url(#c5a)" stroke="#42ebe4" stroke-width="15" fill="none"><path d="M140,800L275,749"/><path d="M170,864L305,813"/><path d="M200,928L335,877"/><path d="M230,992L365,941"/><path d="M260,1056L395,1005"/><path d="M290,1120L425,1069"/><path d="M320,1184L455,1133"/></g>
<path d="M714,600L816,628L770,850L737,1006L668,1140L600,1110L613,1006L668,800Z" fill="#4d6fe0"/>
<g clip-path="url(#c5b)" stroke="#42ebe4" stroke-width="15" fill="none"><path d="M692,630L842,680"/><path d="M676,696L826,746"/><path d="M660,762L810,812"/><path d="M644,828L794,878"/><path d="M628,894L778,944"/><path d="M612,960L762,1010"/><path d="M596,1026L746,1076"/><path d="M580,1092L730,1142"/><path d="M564,1158L714,1208"/></g>
</g>
<rect x="527.3" y="1527.4" width="87.4" height="87.2" fill="#ffffff" stroke="#a3dae4" stroke-width="1"/>
<text transform="translate(570.52 1592.53) scale(0.3076 0.2622)" font-family="'Liberation Sans','Noto Sans CJK KR',sans-serif" font-weight="700" font-size="200" text-anchor="middle" fill="#00a99d" stroke="#00a99d" stroke-width="7" stroke-linejoin="round">랑</text>
<g id="f7" transform="translate(726 1460) scale(0.198675)">
<path d="M248,1380L815,1380L820,1520L245,1520Z" fill="#7a5c5a"/>
<path d="M546,86C470,86 400,120 377,202C362,260 368,330 360,385C352,440 320,490 305,535L302,582L758,582L756,535C742,490 710,440 702,385C694,330 700,260 691,202C672,120 620,86 546,86Z" fill="#6b3a38"/>
<path d="M160,1100L226,910L275,910L275,1160Q275,1176 255,1176L225,1172Q205,1150 195,1100Z" fill="#141c25"/>
<path d="M270,590Q170,660 120,800Q60,960 40,1050Q40,1110 80,1130Q130,1140 168,1098L226,916L269,916L269,1158Q240,1260 212,1345Q250,1400 530,1400Q810,1400 848,1350L770,950L785,916L950,1200L950,900Q900,720 765,600Z" fill="#f48c8c"/>
<path d="M210,660Q225,710 240,760" fill="none" stroke="#2a1512" stroke-width="3" stroke-linecap="round" stroke-linejoin="round"/>
<path d="M75,975L215,860" fill="none" stroke="#2a1512" stroke-width="3" stroke-linecap="round" stroke-linejoin="round"/>
<path d="M450,1175Q420,1250 370,1300" fill="none" stroke="#2a1512" stroke-width="3" stroke-linecap="round" stroke-linejoin="round"/>
<path d="M560,1165Q565,1250 600,1330" fill="none" stroke="#2a1512" stroke-width="3" stroke-linecap="round" stroke-linejoin="round"/>
<path d="M660,1170Q680,1220 720,1250" fill="none" stroke="#2a1512" stroke-width="3" stroke-linecap="round" stroke-linejoin="round"/>
<path d="M820,860Q860,880 906,920" fill="none" stroke="#2a1512" stroke-width="3" stroke-linecap="round" stroke-linejoin="round"/>
<path d="M790,960Q810,1020 850,1080" fill="none" stroke="#2a1512" stroke-width="3" stroke-linecap="round" stroke-linejoin="round"/>
<path d="M452,460L610,460L612,580L450,580Z" fill="#d9a9a0"/>
<ellipse cx="388" cy="347" rx="20" ry="26" fill="#f9cbc4"/>
<ellipse cx="682" cy="352" rx="20" ry="26" fill="#f9cbc4"/>
<path d="M400,320C399.7,297.5 399.5,261 410,240C420.5,219 449.6,191.2 470,180C490.4,168.8 525,165 546,165C567,165 592.3,168.8 610,180C627.7,191.2 654.7,219 664,240C673.3,261 672.3,297.5 672,320C671.7,342.5 668.6,371.2 662,390C655.4,408.8 646.3,429.7 628,445C609.7,460.3 566.4,492 540,492C513.6,492 471.2,460.3 452,445C432.8,429.7 419.8,408.8 412,390C404.2,371.2 400.3,342.5 400,320Z" fill="#f9cbc4"/>
<path d="M546,173C540,200 520,235 490,252C455,272 425,280 400,300L392,330L366,330C362,260 368,200 400,150C440,100 500,86 546,86C600,86 650,100 680,150C705,200 700,260 697,330L680,330L672,292C650,275 625,268 600,250C575,232 555,200 546,173Z" fill="#6b3a38"/>
<path d="M548,100Q556,135 548,170" fill="none" stroke="#2a1512" stroke-width="3" stroke-linecap="round" stroke-linejoin="round"/>
<path d="M428,230Q465,215 500,188" fill="none" stroke="#2a1512" stroke-width="3" stroke-linecap="round" stroke-linejoin="round"/>
<path d="M615,198Q638,222 652,246" fill="none" stroke="#2a1512" stroke-width="3" stroke-linecap="round" stroke-linejoin="round"/>
<path d="M410,420Q400,480 412,520M392,500Q385,540 395,575" fill="none" stroke="#2a1512" stroke-width="3" stroke-linecap="round" stroke-linejoin="round"/>
<path d="M655,440Q650,490 625,545M690,505Q700,540 692,575" fill="none" stroke="#2a1512" stroke-width="3" stroke-linecap="round" stroke-linejoin="round"/>
<circle cx="462" cy="380" r="30" fill="#f5a59d"/>
<circle cx="612" cy="378" r="30" fill="#f5a59d"/>
<ellipse cx="486" cy="325" rx="9" ry="11" fill="#111"/>
<ellipse cx="597" cy="322" rx="9" ry="11" fill="#111"/>
<path d="M470,290Q485,280 500,290" fill="none" stroke="#2a1512" stroke-width="3" stroke-linecap="round" stroke-linejoin="round"/>
<path d="M582,285Q597,275 612,285" fill="none" stroke="#2a1512" stroke-width="3" stroke-linecap="round" stroke-linejoin="round"/>
<path d="M540,310L535,350L546,352" fill="none" stroke="#b98a82" stroke-width="3" stroke-linecap="round" stroke-linejoin="round"/>
<path d="M503,378Q537,370 572,376Q566,414 537,416Q508,412 503,378Z" fill="#e03c3c"/>
<rect x="268" y="575" width="497" height="585" fill="#ffffff"/>
</g>
<text transform="translate(837.45 1663.6) scale(0.2915 0.3)" font-family="'Liberation Sans','Noto Sans CJK KR',sans-serif" font-weight="700" font-size="200" text-anchor="middle" fill="#f27b9b" stroke="#f27b9b" stroke-width="8" stroke-linejoin="round">요</text>
<g id="f7h" transform="translate(726 1460) scale(0.198675)">
<path d="M225,770C234.7,749.2 266.2,740 280,735C293.8,730 304.3,734.2 308,740C311.7,745.8 300.3,760 302,770C303.7,780 315.7,786.7 318,800C320.3,813.3 319,835.8 316,850C313,864.2 306.8,876.7 300,885C293.2,893.3 280.8,894.2 275,900C269.2,905.8 271.2,917.5 265,920C258.8,922.5 245.2,925 238,915C230.8,905 224.2,884.2 222,860C219.8,835.8 215.3,790.8 225,770Z" fill="#f9cbc4"/>
<path d="M808,770C798.3,749.2 766.8,740 753,735C739.2,730 728.7,734.2 725,740C721.3,745.8 732.7,760 731,770C729.3,780 717.3,786.7 715,800C712.7,813.3 714,835.8 717,850C720,864.2 726.2,876.7 733,885C739.8,893.3 752.2,894.2 758,900C763.8,905.8 761.8,917.5 768,920C774.2,922.5 787.8,925 795,915C802.2,905 808.8,884.2 811,860C813.2,835.8 817.7,790.8 808,770Z" fill="#f9cbc4"/>
<path d="M235,795Q270,780 305,765" fill="none" stroke="#a86a64" stroke-width="2.5" stroke-linecap="round" stroke-linejoin="round"/>
<path d="M235,828Q275,810 318,805" fill="none" stroke="#a86a64" stroke-width="2.5" stroke-linecap="round" stroke-linejoin="round"/>
<path d="M245,858Q280,842 312,842" fill="none" stroke="#a86a64" stroke-width="2.5" stroke-linecap="round" stroke-linejoin="round"/>
<path d="M798,795Q763,780 728,765" fill="none" stroke="#a86a64" stroke-width="2.5" stroke-linecap="round" stroke-linejoin="round"/>
<path d="M798,828Q758,810 715,805" fill="none" stroke="#a86a64" stroke-width="2.5" stroke-linecap="round" stroke-linejoin="round"/>
<path d="M788,858Q753,842 721,842" fill="none" stroke="#a86a64" stroke-width="2.5" stroke-linecap="round" stroke-linejoin="round"/>
</g>
<!--P1-->
</g>
<!-- bottom banner -->
<rect x="0" y="1756" width="906" height="154" fill="#84a092"/>
</svg>
<!-- TEXT -->
<div id="t_h1a" class="t b7 dk h1" style="left:85.5px;top:219px;">공통표어 : 하나님을 자랑하고</div>
<div id="t_h1b" class="t b7 dk h1" style="left:165.5px;top:283px;">증거하는 행복한 공동체</div>
<div id="t_h1c" class="t b7 dk" style="left:379.5px;top:346.5px;font-size:37.5px;letter-spacing:-0.2px;">(시 34:2)</div>

<div id="t_p1a" class="t b7 wh pl" style="left:383px;top:453px;">유아부</div>
<div id="t_p1b" class="t b7 wh ps" style="left:398.5px;top:527px;font-size:27.75px;">주일 오후</div>
<div id="t_p1c" class="t b7 wh pn" style="left:417px;top:558px;font-size:27.75px;">12:00</div>

<div id="t_p2a" class="t b7 wh pl" style="left:625px;top:611px;">유치부</div>
<div id="t_p2b" class="t b7 wh ps" style="left:666px;top:683px;">주일 오전</div>
<div id="t_p2c" class="t b7 wh pn" style="left:686px;top:715px;">10:00</div>

<div id="t_p3a" class="t b7 wh pl" style="left:662px;top:865px;">초등</div>
<div id="t_p3b" class="t b7 wh pl" style="left:672px;top:924px;">1부</div>
<div id="t_p3c" class="t b7 wh ps" style="left:631px;top:988px;">주일 오전</div>
<div id="t_p3d" class="t b7 wh pn" style="left:651px;top:1020px;">10:00</div>

<div id="t_p4a" class="t b7 wh pl" style="left:408px;top:1001px;">초등</div>
<div id="t_p4b" class="t b7 wh pl" style="left:416.5px;top:1059px;">2부</div>
<div id="t_p4c" class="t b7 wh ps" style="left:399px;top:1117px;">주일 오전</div>
<div id="t_p4d" class="t b7 wh pn" style="left:419px;top:1150px;">10:00</div>

<div id="t_p5a" class="t b7 wh pl" style="left:118px;top:882px;">중등부</div>
<div id="t_p5b" class="t b7 wh ps" style="left:146px;top:954px;">주일 오전</div>
<div id="t_p5c" class="t b7 wh pn" style="left:166px;top:987px;">10:00</div>

<div id="t_p6a" class="t b7 wh pl" style="left:139px;top:603px;">고등부</div>
<div id="t_p6b" class="t b7 wh ps" style="left:116px;top:682px;">주일 오전</div>
<div id="t_p6c" class="t b7 wh pn" style="left:136px;top:714px;">10:00</div>

<div id="t_c1" class="t b7 bl ct" style="left:369px;top:759px;">온천교회</div>
<div id="t_c2" class="t b7 bl ct" style="left:368px;top:815px;">주일학교</div>

<div id="t_m1" class="t b7 dk h3" style="left:196px;top:1251px;">모든 기관이 같은 말씀으로</div>
<div id="t_m2" class="t b7 dk h3" style="left:174px;top:1302px;">하나님을 자랑하고 증거하는</div>
<div id="t_m3" class="t b7 dk h3" style="left:192px;top:1353px;">하나님의 사람을 키웁니다<i>!</i></div>

<div id="t_f1" class="t b5 cr ft" style="left:79px;top:1771px;">주제말씀 : 지혜 있는 자는 궁창의 빛과 같이 빛날 것이요</div>
<div id="t_f2" class="t b5 cr ft" style="left:120px;top:1812px;">많은 사람을 옳은 데로 돌아오게 한 자는 별과 같이</div>
<div id="t_f3" class="t b5 cr ft" style="left:236.5px;top:1851px;">영원토록 빛나리라 (다니엘 12:4)</div>

</body>
</html>
